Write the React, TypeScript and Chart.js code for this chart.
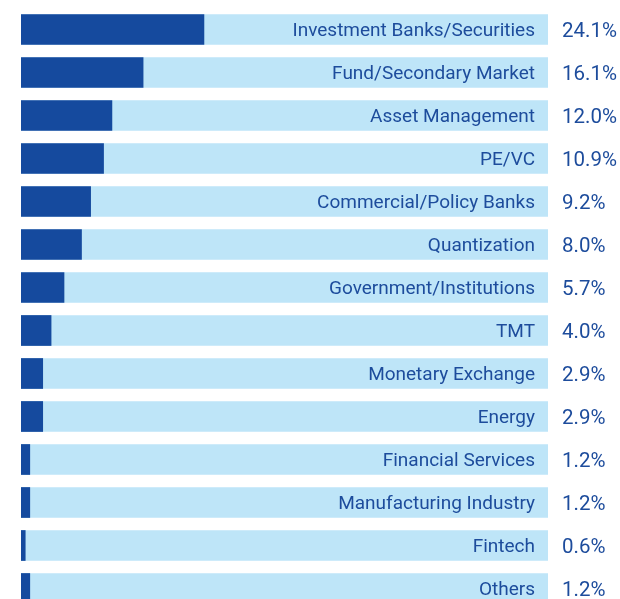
import React, { useEffect, useRef } from "react";
import { Chart, registerables } from "chart.js";

Chart.register(...registerables);

const categories = [
  "Investment Banks/Securities",
  "Fund/Secondary Market",
  "Asset Management",
  "PE/VC",
  "Commercial/Policy Banks",
  "Quantization",
  "Government/Institutions",
  "TMT",
  "Monetary Exchange",
  "Energy",
  "Financial Services",
  "Manufacturing Industry",
  "Fintech",
  "Others",
];
const values = [24.1, 16.1, 12.0, 10.9, 9.2, 8.0, 5.7, 4.0, 2.9, 2.9, 1.2, 1.2, 0.6, 1.2];
const valueLabels = ["24.1%", "16.1%", "12.0%", "10.9%", "9.2%", "8.0%", "5.7%", "4.0%", "2.9%", "2.9%", "1.2%", "1.2%", "0.6%", "1.2%"];
const axisMax = 69.3;
const backgroundValues = categories.map(() => axisMax);

const DARK = "#154a9e";
const LIGHT = "#bee5f8";
const TEXT = "#1d4c9c";

const labelPlugin = {
  id: "barLabels",
  afterDatasetsDraw(chart: any) {
    const { ctx, chartArea } = chart;
    const meta = chart.getDatasetMeta(0);
    ctx.save();
    ctx.fillStyle = TEXT;
    ctx.textBaseline = "middle";
    meta.data.forEach((bar: any, i: number) => {
      const y = bar.y;
      ctx.font = "19px Roboto";
      ctx.textAlign = "right";
      ctx.fillText(categories[i], chartArea.right - 13, y + 2);
      ctx.font = "20.5px Roboto";
      ctx.textAlign = "left";
      ctx.fillText(valueLabels[i], chartArea.right + 14, y + 2.5);
    });
    ctx.restore();
  },
};

export default function App() {
  const ref = useRef<HTMLCanvasElement | null>(null);
  useEffect(() => {
    if (!ref.current) return;
    const chart = new Chart(ref.current, {
      type: "bar",
      data: {
        labels: categories,
        datasets: [
          {
            data: values,
            backgroundColor: DARK,
            grouped: false,
            barPercentage: 0.714,
            categoryPercentage: 1,
            order: 0,
          } as any,
          {
            data: backgroundValues,
            backgroundColor: LIGHT,
            grouped: false,
            barPercentage: 0.714,
            categoryPercentage: 1,
            order: 1,
          } as any,
        ],
      },
      options: {
        indexAxis: "y",
        animation: false,
        responsive: false,
        layout: { padding: { left: 21, right: 72, top: 8, bottom: 0 } },
        plugins: { legend: { display: false }, tooltip: { enabled: false } },
        scales: {
          x: { display: false, min: 0, max: axisMax },
          y: { display: false },
        },
      },
      plugins: [labelPlugin],
    });
    return () => chart.destroy();
  }, []);
  return (
    <div style={{ position: "fixed", top: 0, left: 0, width: 620, height: 599, overflow: "hidden", background: "#fff" }}>
      <canvas ref={ref} width={620} height={610} style={{ display: "block" }} />
    </div>
  );
}
